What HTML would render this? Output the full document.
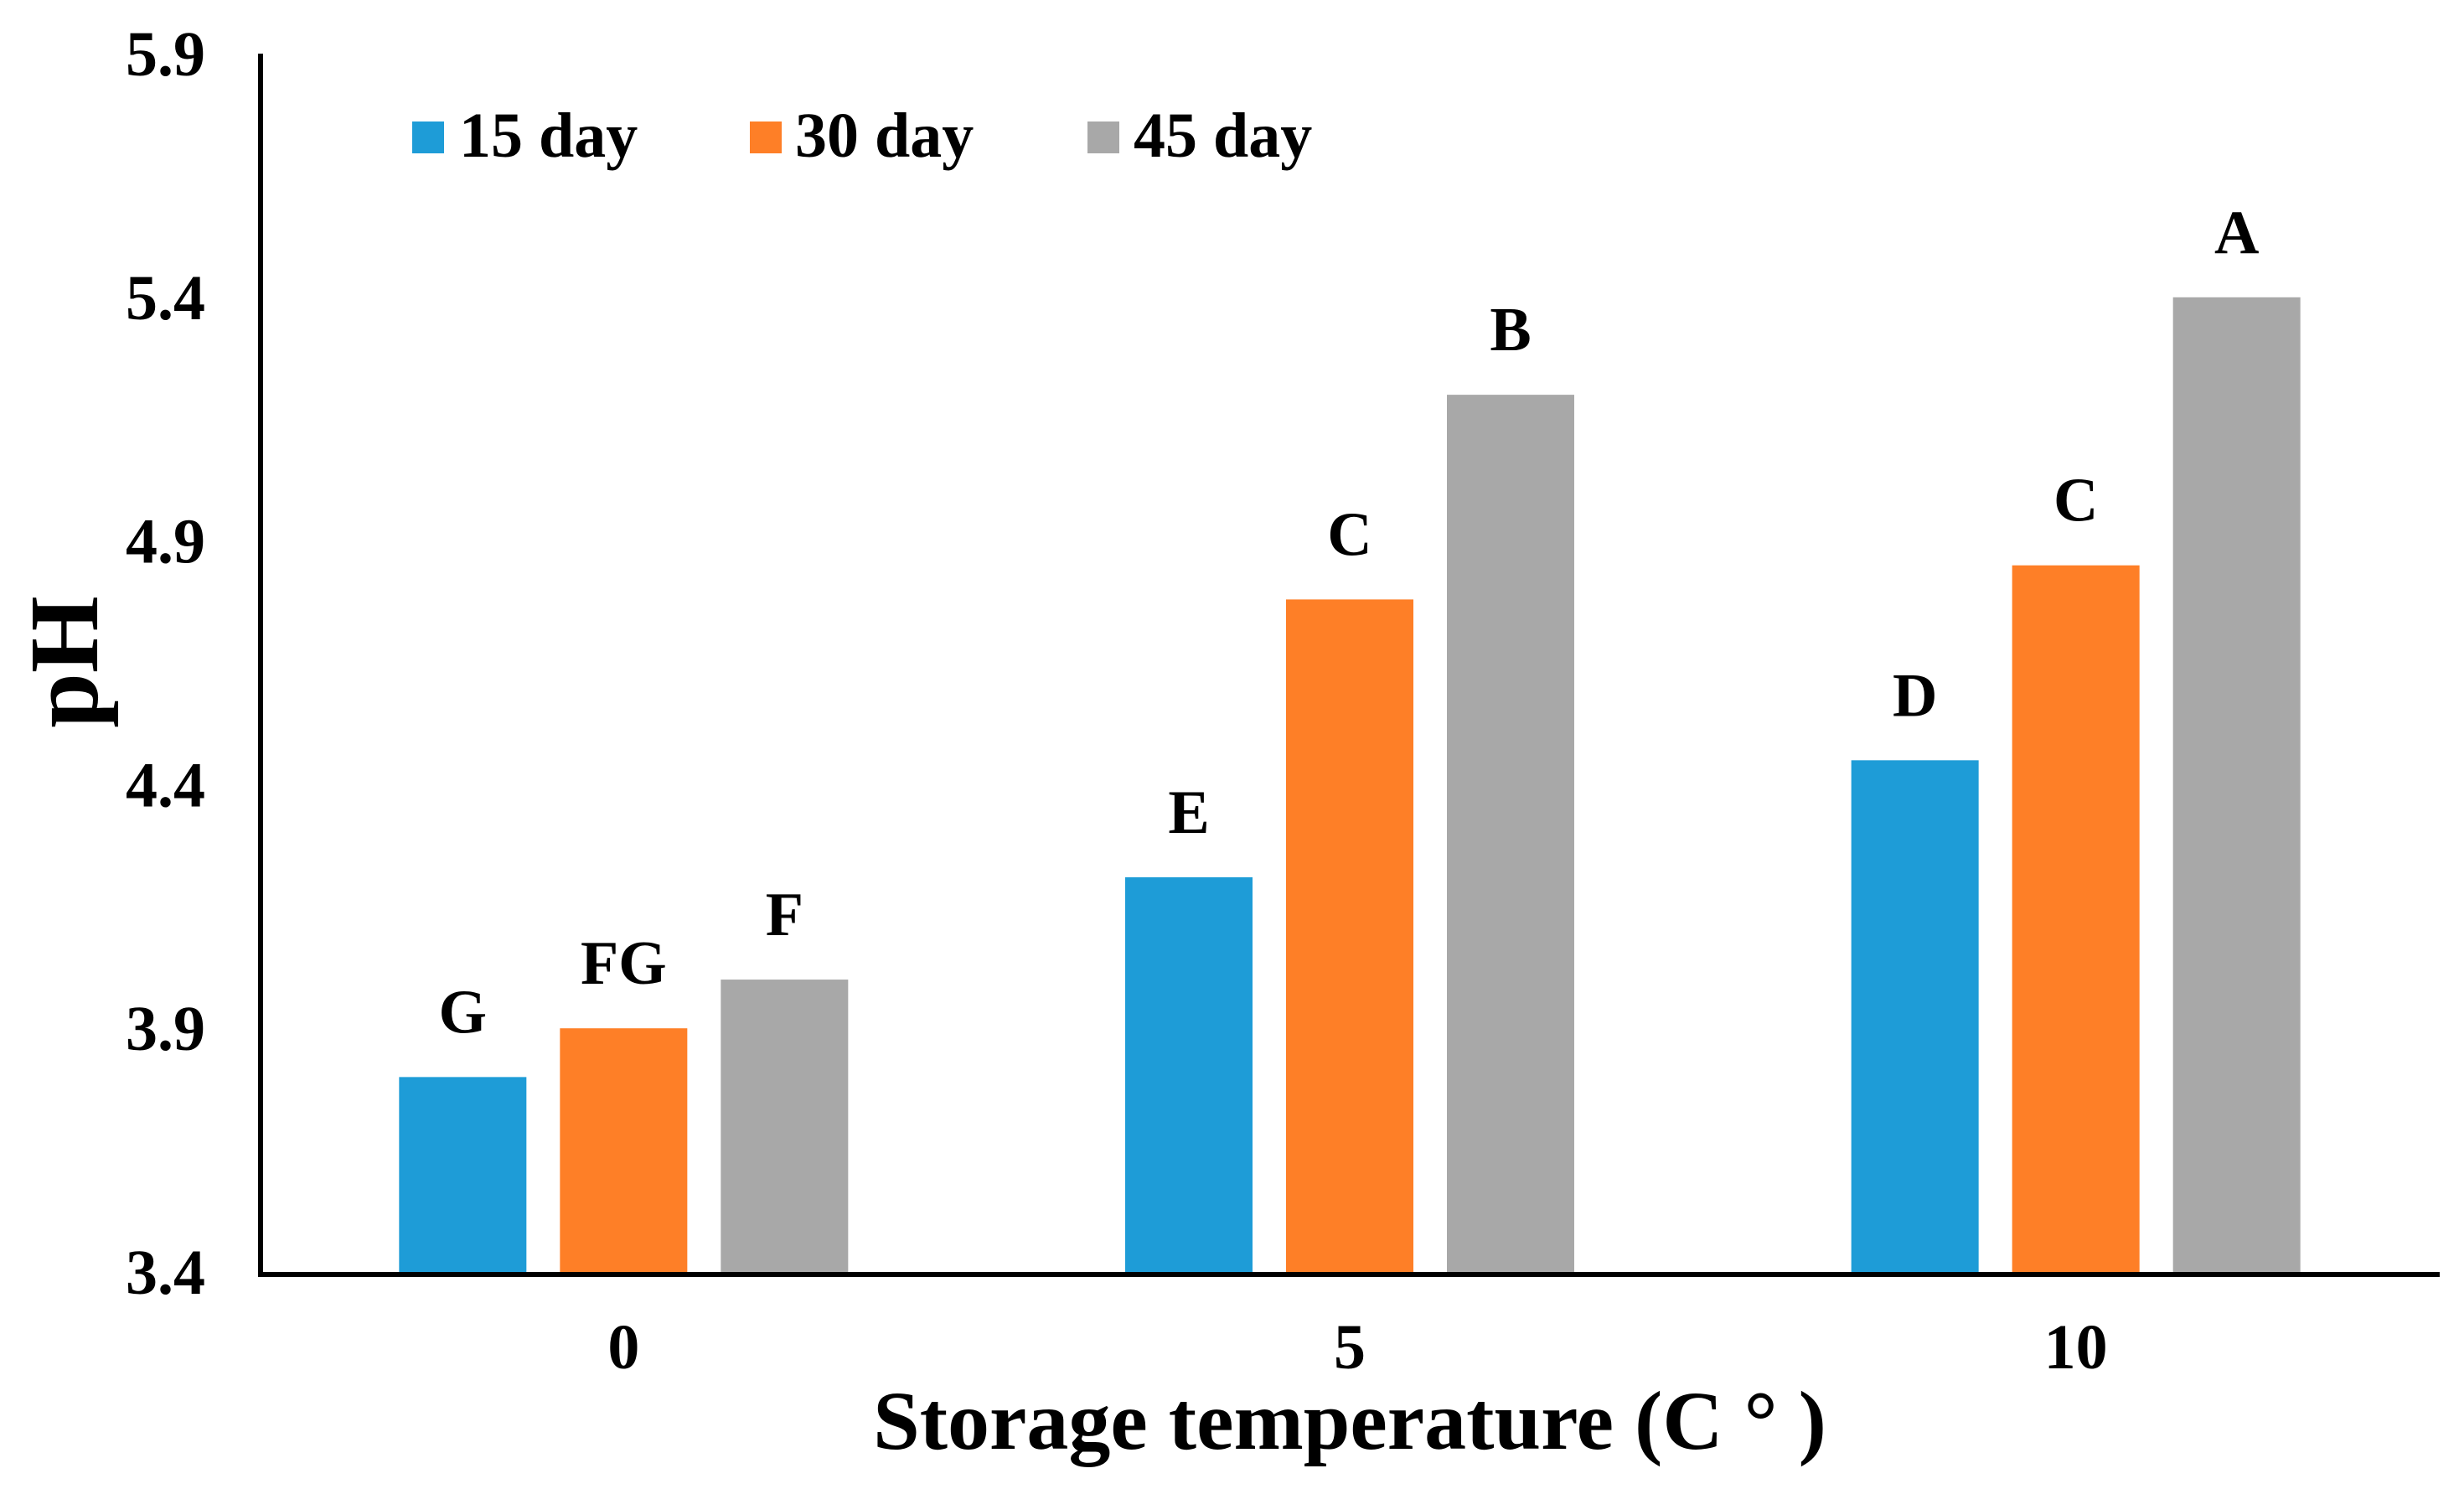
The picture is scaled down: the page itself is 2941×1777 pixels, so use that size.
<!DOCTYPE html>
<html><head><meta charset="utf-8"><style>
html,body{margin:0;padding:0;background:#fff;}
svg{display:block;}
svg text{font-family:"Liberation Serif","Times New Roman",Times,serif;font-weight:bold;}
</style></head><body>
<svg id="chart" width="2941" height="1777" viewBox="0 0 2941 1777" xmlns="http://www.w3.org/2000/svg" font-family="Liberation Serif, serif" font-weight="bold">
<rect width="2941" height="1777" fill="#fff"/>
<g id="bars"></g>
<g id="letters"></g>
<g id="yticks"></g>
<g id="xticks"></g>
<line x1="311" y1="64" x2="311" y2="1521" stroke="#000" stroke-width="6"/>
<line x1="308" y1="1521" x2="2912" y2="1521" stroke="#000" stroke-width="6"/>
<g>
  <rect x="492" y="145" width="38" height="38" fill="#1e9cd7"/>
  <text x="548" y="187" font-size="76">15 day</text>
  <rect x="895" y="145" width="38" height="38" fill="#fe7f27"/>
  <text x="949" y="187" font-size="76">30 day</text>
  <rect x="1298" y="145" width="38" height="38" fill="#a8a8a8"/>
  <text x="1353" y="187" font-size="76">45 day</text>
</g>
<text x="1611" y="1729" font-size="100" text-anchor="middle">Storage temperature (C ° )</text>
<text transform="translate(116,790) rotate(-90)" font-size="118" text-anchor="middle">pH</text>
</svg>
<script>
const categories = ["0", "5", "10"];
const seriesNames = ["15 day", "30 day", "45 day"];
const day15 = [3.80, 4.21, 4.45];
const day30 = [3.90, 4.78, 4.85];
const day45 = [4.00, 5.20, 5.40];
const letters15 = ["G", "E", "D"];
const letters30 = ["FG", "C", "C"];
const letters45 = ["F", "B", "A"];
const yTicks = [3.4, 3.9, 4.4, 4.9, 5.4, 5.9];

const NS = "http://www.w3.org/2000/svg";
const colors = ["#1e9cd7", "#fe7f27", "#a8a8a8"];
const yMin = 3.4, yMax = 5.9, yTop = 64, yBot = 1518;
const xLeft = 311, xRight = 2911;
function yScale(v){ return yBot - (v - yMin) / (yMax - yMin) * (yBot - yTop); }
function xCenter(i){ const w = (xRight - xLeft) / categories.length; return xLeft + w * (i + 0.5); }
const barW = 152, step = 192;
const series = [day15, day30, day45];
const lets = [letters15, letters30, letters45];
const gb = document.getElementById('bars');
const gl = document.getElementById('letters');
series.forEach((vals, s) => {
  vals.forEach((v, i) => {
    const cx = xCenter(i) + (s - 1) * step;
    const r = document.createElementNS(NS, 'rect');
    
    
    r.setAttribute('x', cx - barW / 2);
    r.setAttribute('y', yScale(v));
    r.setAttribute('width', barW);
    r.setAttribute('height', yBot - yScale(v));
    r.setAttribute('fill', colors[s]);
    gb.appendChild(r);
    const t = document.createElementNS(NS, 'text');
    
    
    t.setAttribute('x', cx);
    t.setAttribute('y', yScale(v) - 53);
    t.setAttribute('font-size', '74');
    t.setAttribute('text-anchor', 'middle');
    t.textContent = lets[s][i];
    gl.appendChild(t);
  });
});
const gy = document.getElementById('yticks');
yTicks.forEach(v => {
  const t = document.createElementNS(NS, 'text');
  
  
  t.setAttribute('x', 245);
  t.setAttribute('y', yScale(v) + 26);
  t.setAttribute('font-size', '76');
  t.setAttribute('text-anchor', 'end');
  t.textContent = v.toFixed(1);
  gy.appendChild(t);
});
const gx = document.getElementById('xticks');
categories.forEach((c, i) => {
  const t = document.createElementNS(NS, 'text');
  
  
  t.setAttribute('x', xCenter(i));
  t.setAttribute('y', 1633);
  t.setAttribute('font-size', '76');
  t.setAttribute('text-anchor', 'middle');
  t.textContent = c;
  gx.appendChild(t);
});
</script>
</body></html>
